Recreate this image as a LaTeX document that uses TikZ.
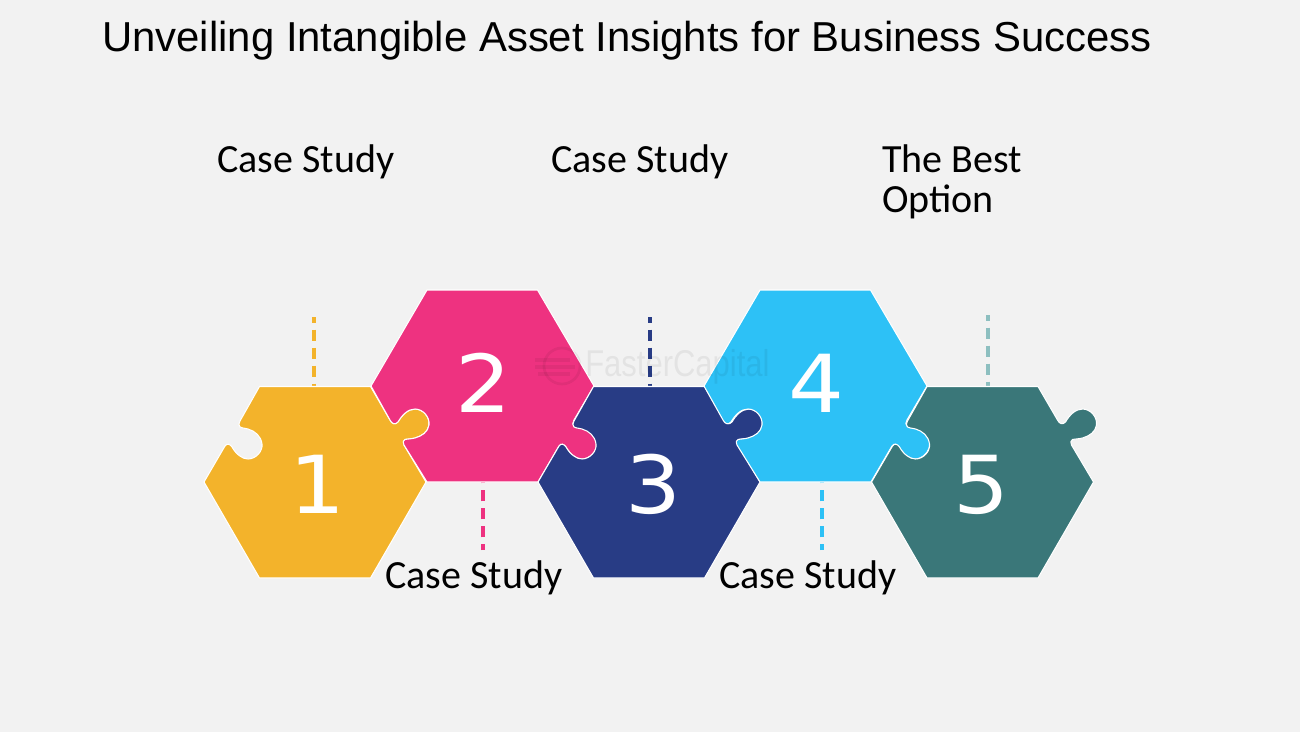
\documentclass[tikz,border=0pt]{standalone}
\usepackage{fontspec}
\setmainfont{Liberation Sans}
\newfontfamily\labelfont{Carlito}
\newfontfamily\digitfont[FakeStretch=1.1]{DejaVu Sans}
\newfontfamily\wmfont[FakeStretch=0.83]{Liberation Sans}
\definecolor{bgc}{HTML}{F2F2F2}
\definecolor{c1}{HTML}{F3B32B}
\definecolor{c2}{HTML}{EE3280}
\definecolor{c3}{HTML}{283C85}
\definecolor{c4}{HTML}{2DC1F6}
\definecolor{c5}{HTML}{3A7779}
\definecolor{c5l}{HTML}{8DBFC0}
\newcommand{\oddpiece}[3]{%
 \path[piece,fill=#3,shift={(#1,#2)}]
  (-55.5,-95.5) -- (55.5,-95.5) -- (75,-62)
  .. controls (77,-58) and (80,-57) .. (83,-60)
  .. controls (87,-67) and (93,-73) .. (100,-73)
  .. controls (108,-73) and (115,-65) .. (114,-57)
  .. controls (113,-50) and (107,-46) .. (100,-44)
  .. controls (96,-43) and (92,-43) .. (90,-42.5)
  .. controls (88,-42) and (88,-39) .. (89,-37)
  -- (111,0) -- (55.5,96) -- (-55.5,96) -- (-111,0) -- (-90,-36)
  .. controls (-88,-39) and (-85,-38) .. (-83,-35)
  .. controls (-79,-28) and (-73,-23) .. (-67,-23)
  .. controls (-59,-23) and (-52,-31) .. (-53,-38)
  .. controls (-54,-46) and (-60,-51) .. (-67,-53)
  .. controls (-71,-54) and (-74,-54) .. (-75,-55)
  .. controls (-77,-56) and (-76,-59) .. (-75,-61)
  -- cycle;}
\newcommand{\evenpiece}[3]{%
 \path[piece,fill=#3,shift={(#1,#2)}]
  (-56,-96) -- (54.5,-96) -- (111,0) -- (91,34)
  .. controls (90,36) and (89,39) .. (91,40)
  .. controls (94,41) and (97,41) .. (100,42)
  .. controls (107,44) and (113,50) .. (114,57)
  .. controls (114,65) and (107,73) .. (99,73)
  .. controls (93,73) and (87,68) .. (83,61)
  .. controls (81,58) and (78,57) .. (76,60)
  -- (55,96) -- (-56,96) -- (-79,59)
  .. controls (-80,56) and (-80,54) .. (-78,53.5)
  .. controls (-76,53) and (-72,53) .. (-68,52)
  .. controls (-61,50) and (-55,46) .. (-54,39)
  .. controls (-53,31) and (-60,23) .. (-68,23)
  .. controls (-75,23) and (-81,29) .. (-85,36)
  .. controls (-88,39) and (-91,38) .. (-93,34)
  -- (-112,0) -- cycle;}
\tikzset{
  piece/.style={draw=white,line width=0.8pt,line join=round},
  digit/.style={text=white,font=\digitfont\fontsize{60}{60}\selectfont,inner sep=0pt,anchor=center},
  lab/.style={text=black,font=\labelfont\fontsize{30}{32}\selectfont,inner sep=0pt,anchor=base west},
  leader/.style={line width=2.8pt,dash pattern=on 8.5pt off 5pt,dash phase=4pt},
}
\begin{document}
\begin{tikzpicture}[x=0.75pt,y=-0.75pt]
\fill[bgc] (0,0) rectangle (1300,732);
\useasboundingbox (0,0) rectangle (1300,732);
% leaders
\coordinate (t1) at (314,317); \coordinate (h1) at (314,387);
\coordinate (t2) at (483,550); \coordinate (h2) at (483,482);
\coordinate (t3) at (650,317); \coordinate (h3) at (650,387);
\coordinate (t4) at (822,550); \coordinate (h4) at (822,482);
\coordinate (t5) at (988,315); \coordinate (h5) at (988,387);
\draw[leader,c1] (t1) -- (h1);
\draw[leader,c2] (t2) -- (h2);
\draw[leader,c3] (t3) -- (h3);
\draw[leader,c4] (t4) -- (h4);
\draw[leader,c5l,line width=3.2pt] (t5) -- (h5);
% pieces
\oddpiece{315}{482}{c1}
\evenpiece{483}{386}{c2}
\oddpiece{649}{482}{c3}
\evenpiece{816}{386}{c4}
\oddpiece{982.5}{482}{c5}
% watermark
\node[inner sep=0pt,anchor=base west,text=black,opacity=.06,font=\wmfont\fontsize{28}{30}\selectfont] (wm) at (585,376) {FasterCapital};
\draw[black,opacity=.06,line width=2pt] (562,366) circle[radius=18];
\draw[black,opacity=.06,line width=3pt] (535,360) -- (570,360) (535,367) -- (575,367) (538,374) -- (570,374);
% digits
\node[digit] (n1) at (317,484) {1};
\node[digit] (n2) at (483,383) {2};
\node[digit] (n3) at (653,484) {3};
\node[digit] (n4) at (816,383) {4};
\node[digit] (n5) at (981,485) {5};
% labels
\node[inner sep=0pt,anchor=base west,text=black,font=\fontsize{31.4}{33}\selectfont] (title) at (102,51) {Unveiling Intangible Asset Insights for Business Success};
\node[lab] (l1) at (217,172) {Case Study};
\node[lab] (l3) at (551,172) {Case Study};
\node[lab] (l5) at (882,172) {The Best};
\node[lab] (l5b) at (882,212) {Option};
\node[lab] (l2) at (385,588) {Case Study};
\node[lab] (l4) at (719,588) {Case Study};
\end{tikzpicture}
\end{document}
